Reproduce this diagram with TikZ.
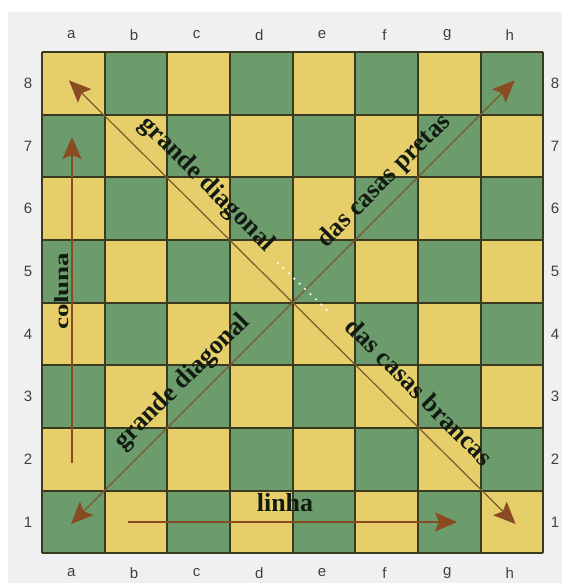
\documentclass[tikz,border=0pt]{standalone}
\usepackage{fontspec}
\setmainfont{Liberation Serif}
\newfontfamily\lblfont{Liberation Sans}
\newfontfamily\widefont[FakeStretch=1.35]{Liberation Serif}
\usetikzlibrary{arrows.meta}
\definecolor{sqy}{HTML}{E6CE6A}
\definecolor{sqg}{HTML}{6C9B6C}
\definecolor{gridc}{HTML}{3A3A20}
\definecolor{arr}{HTML}{8A4A22}
\definecolor{diagc}{HTML}{7A5A2A}
\definecolor{panel}{HTML}{F0F0F0}
\definecolor{txt}{HTML}{121A12}
\definecolor{coordc}{HTML}{404040}
\begin{document}
\begin{tikzpicture}[x=1pt,y=-1pt,
  coordlbl/.style={font=\lblfont\fontsize{15}{15}\selectfont, text=coordc, inner sep=0pt},
  boardtext/.style={font=\bfseries\fontsize{26}{26}\selectfont, text=txt, inner sep=0pt, text height=18pt, text depth=6pt},
  bighead/.tip={Stealth[length=22pt,width=19pt,inset=4pt,color=arr]},
  arrowline/.style={draw=arr, line width=1.4pt, -bighead},
  diagline/.style={draw=diagc, line width=1.2pt, bighead-bighead},
  dotline/.style={draw=white, line width=2.4pt, line cap=round, dash pattern=on 0pt off 7.5pt},
]
\useasboundingbox (0,0) rectangle (562,583);
\fill[white] (0,0) rectangle (562,583);
\fill[panel] (8,12) rectangle (562,583);
\def\s{62.65}
\def\ox{42}
\def\oy{52}
% squares
\foreach \i in {0,...,7} {
  \foreach \j in {0,...,7} {
    \pgfmathtruncatemacro{\parity}{mod(\i+\j,2)}
    \ifnum\parity=0
      \fill[sqy] ({\ox+\i*\s},{\oy+\j*\s}) rectangle ++(\s,\s);
    \else
      \fill[sqg] ({\ox+\i*\s},{\oy+\j*\s}) rectangle ++(\s,\s);
    \fi
  }
}
% grid lines
\foreach \k in {0,...,8} {
  \draw[gridc, line width=2pt] ({\ox+\k*\s},{\oy}) -- ({\ox+\k*\s},{\oy+8*\s});
  \draw[gridc, line width=2pt] ({\ox},{\oy+\k*\s}) -- ({\ox+8*\s},{\oy+\k*\s});
}
% file labels
\foreach \f [count=\n from 0] in {a,b,c,d,e,f,g,h} {
  \node[coordlbl] (top\f) at ({\ox+(\n+0.5)*\s-2},35) {\f};
  \node[coordlbl] (bot\f) at ({\ox+(\n+0.5)*\s-2},573) {\f};
}
% rank labels
\foreach \r in {1,...,8} {
  \node[coordlbl] (left\r) at (28,{\oy+(8-\r+0.5)*\s}) {\r};
  \node[coordlbl] (right\r) at (555,{\oy+(8-\r+0.5)*\s}) {\r};
}
% arrow end points
\coordinate (a1) at (71,524);
\coordinate (h8) at (514.6,80.4);
\coordinate (a8) at (69,80.4);
\coordinate (h1) at (515.6,524);
\coordinate (colS) at (72,463);
\coordinate (colE) at (72,137);
\coordinate (rowS) at (128,522);
\coordinate (rowE) at (457,522);
\coordinate (dotS) at (278,263);
\coordinate (dotE) at (330,313);
% arrows
\draw[diagline] (a1) -- (h8);
\draw[diagline] (a8) -- (h1);
\draw[arrowline] (colS) -- (colE);
\draw[arrowline] (rowS) -- (rowE);
\draw[dotline] (dotS) -- (dotE);
% texts
\node[boardtext, rotate=-45] (gdUp) at (206.5,184.5) {grande diagonal};
\node[boardtext, rotate=45] (gdLow) at (182.5,382.5) {grande diagonal};
\node[boardtext, rotate=45] (pretas) at (384.5,181.5) {das casas pretas};
\node[boardtext, rotate=-45] (brancas) at (417.5,393.5) {das casas brancas};
\node[boardtext, font=\widefont\bfseries\fontsize{20}{20}\selectfont, text height=14pt, text depth=0pt, rotate=90] (coluna) at (61,291) {coluna};
\node[boardtext] (linha) at (285,505) {linha};
\end{tikzpicture}
\end{document}
